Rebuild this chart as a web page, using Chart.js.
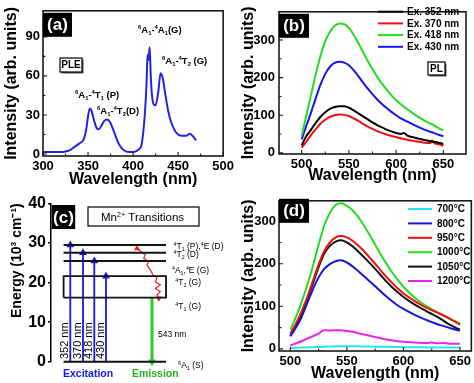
<!DOCTYPE html>
<html lang="en">
<head>
<meta charset="UTF-8">
<title>Mn2+ PLE / PL spectra</title>
<script src="https://cdn.jsdelivr.net/npm/chart.js"></script>
<style>
  body { margin: 0; background: #fff; width: 474px; height: 383px; overflow: hidden; position: relative; }
  .panel { position: absolute; }
</style>
</head>
<body>
<div class="panel" style="left:0;top:0;width:237px;height:190px"><canvas id="chartA"></canvas></div>
<div class="panel" style="left:237px;top:0;width:237px;height:190px"><canvas id="chartB"></canvas></div>
<div class="panel" style="left:0;top:190px;width:237px;height:193px"><canvas id="chartC"></canvas></div>
<div class="panel" style="left:237px;top:190px;width:237px;height:193px"><canvas id="chartD"></canvas></div>

<script>
// (a) PLE spectrum
const pleWavelength = [300, 310, 320, 325, 330, 335, 340, 345, 348, 350, 352, 354, 357, 360, 362, 365, 368, 371, 374, 377,
  380, 384, 388, 392, 396, 400, 404, 407, 409, 411, 413, 415, 416, 417, 418.5, 419.5, 421, 423, 425, 428,
  430.5, 433, 436, 439, 442, 446, 450, 455, 459, 463, 466, 470];
const pleIntensity = [1.5, 1.5, 1.5, 2, 3, 5.5, 8, 11, 19, 29, 35, 33, 25, 19.5, 19, 22, 25.5, 26.5, 25, 20.5,
  15, 8, 4, 2, 1.5, 1.5, 2.5, 4, 6, 15, 30, 55, 76, 72, 82, 62, 45, 38, 37.5, 48,
  62, 58, 45, 33, 25, 18.5, 15, 14, 14, 15.5, 14, 10.5];
const pleTicksX = [300, 350, 400, 450, 500];
const pleTicksY = [0, 30, 60, 90];

// (b) PL for different excitation wavelengths
const plWavelength = [500, 505, 510, 515, 520, 525, 530, 535, 540, 545, 550, 555, 560, 565, 570, 575, 580, 585, 590, 595,
  600, 605, 608, 612, 620, 630, 636, 638, 641, 645, 650];
const excLabels = ['Ex. 352 nm', 'Ex. 370 nm', 'Ex. 418 nm', 'Ex. 430 nm'];
const ex352 = [20, 45, 62, 80, 96, 108, 117, 122, 124, 124, 120, 113, 105, 97, 89, 81, 74, 68, 62, 57, 53, 50, 53, 46, 40, 34, 31, 30, 29, 27, 24];
const ex370 = [14, 30, 48, 63, 78, 88, 96, 100, 102, 101, 98, 92, 85, 77, 70, 64, 58, 53, 49, 45, 42, 39, 37, 35, 31, 27, 26, 33, 25, 23, 19];
const ex418 = [45, 100, 155, 210, 258, 297, 322, 338, 344, 342, 332, 314, 292, 268, 244, 222, 202, 184, 168, 153, 140, 129, 123, 116, 101, 86, 78, 76, 72, 66, 60];
const ex430 = [36, 72, 108, 146, 182, 210, 229, 239, 242, 240, 233, 220, 204, 187, 171, 156, 142, 130, 119, 109, 100, 92, 88, 83, 73, 62, 56, 55, 52, 48, 44];
const plTicksX = [500, 550, 600, 650];
const plTicksY = [0, 100, 200, 300];

// (c) Mn2+ energy levels (10^3 cm-1)
const levelEnergy = [29.5, 27.5, 25.4, 0];
const bandEnergy = [16.2, 21.6];
const levelSpan = [12.6, 115];
const levelNames = ['^4T_1 (P),^4E (D)', '^4T_2 (D)', '^4A_1,^4E (G)', '^4T_2 (G)', '^4T_1 (G)', '^6A_1 (S)'];
const excitationX = [19.3, 32, 43.3, 55];
const excitationTop = [29.5, 27.5, 25.4, 21.6];
const excitationNm = ['352 nm', '370 nm', '418 nm', '430 nm'];
const emissionX = 101;
const relaxX = [86, 94.3, 92.7, 97.7, 96, 99.3, 102, 106, 104.3, 109.3, 104.3, 109.3, 106, 107.7];
const relaxE = [28.6, 27, 26.1, 25.3, 24.4, 23.2, 21.9, 21.1, 20.2, 19.4, 18.5, 17.7, 16.8, 16.0];

// (d) PL for different annealing temperatures
const tempWavelength = [500, 505, 510, 515, 520, 525, 530, 535, 540, 545, 550, 555, 560, 565, 570, 575, 580, 585, 590, 595,
  600, 610, 620, 625, 630, 635, 640, 645, 650];
const tempLabels = ['700°C', '800°C', '950°C', '1000°C', '1050°C', '1200°C'];
const t700 = [2, 2.5, 3, 3.5, 4, 4.5, 5, 5.5, 6, 6, 6, 6, 6, 5.5, 5.5, 5, 5, 5, 4.5, 4.5, 4, 4, 3.5, 3.5, 3.5, 3, 3, 3, 3];
const t800 = [30, 50, 75, 108, 140, 168, 188, 199, 206, 208, 203, 194, 183, 171, 159, 147, 135, 123, 112, 102, 94, 80, 68, 63, 58, 54, 50, 46, 43];
const t950 = [36, 60, 88, 122, 160, 198, 230, 250, 262, 265, 262, 254, 243, 230, 215, 200, 184, 169, 155, 142, 130, 112, 97, 91, 85, 79, 72, 65, 57];
const t1000 = [45, 75, 110, 150, 195, 245, 290, 320, 338, 342, 336, 326, 310, 290, 268, 245, 222, 200, 180, 162, 146, 120, 101, 93, 86, 79, 72, 65, 59];
const t1050 = [30, 54, 82, 116, 154, 192, 224, 242, 252, 255, 250, 241, 229, 216, 202, 188, 173, 158, 145, 133, 122, 104, 89, 82, 75, 67, 58, 51, 45];
const t1200 = [8, 13, 18, 24, 30, 36, 44, 43, 44, 44, 42, 40, 37, 34, 31, 28, 25, 22, 20, 18, 17, 15, 14, 15, 13, 14, 12, 12, 12];

const FONT = 'Arial, "Liberation Sans", sans-serif';
const tickFont = { family: FONT, size: 13, weight: 'bold' };
const titleFont = { family: FONT, size: 16, weight: 'bold' };

const pts = (xs, ys) => xs.map((x, i) => ({ x: x, y: ys[i] }));
const fixedTicks = vals => s => { s.ticks = vals.map(v => ({ value: v })); };

// text with ^x superscript and _x subscript runs
function richText(ctx, str, x, y, size, weight) {
  const parts = str.match(/\^.|_.|[^\^_]+/g);
  let cx = x;
  parts.forEach(p => {
    let dy = 0, fs = size, t = p;
    if (p[0] === '^') { dy = -size * 0.38; fs = size * 0.62; t = p.slice(1); }
    else if (p[0] === '_') { dy = size * 0.22; fs = size * 0.62; t = p.slice(1); }
    ctx.font = weight + ' ' + fs + 'px ' + FONT;
    ctx.fillText(t, cx, y + dy);
    cx += ctx.measureText(t).width;
  });
}

function tag(ctx, text, x, y, w, h) {
  ctx.fillStyle = '#000';
  ctx.fillRect(x, y, w, h);
  ctx.fillStyle = '#fff';
  ctx.font = 'bold 17px ' + FONT;
  ctx.textAlign = 'center';
  ctx.textBaseline = 'middle';
  ctx.fillText(text, x + w / 2, y + h / 2 + 1);
  ctx.textAlign = 'left';
  ctx.textBaseline = 'alphabetic';
}

function shadowBox(ctx, text, x, y, w, h, size) {
  ctx.fillStyle = '#555';
  ctx.fillRect(x + 1.5, y + 1.5, w, h);
  ctx.fillStyle = '#fff';
  ctx.fillRect(x, y, w, h);
  ctx.strokeStyle = '#000';
  ctx.lineWidth = 1.2;
  ctx.strokeRect(x, y, w, h);
  ctx.fillStyle = '#000';
  ctx.font = 'bold ' + size + 'px ' + FONT;
  ctx.textAlign = 'center';
  ctx.textBaseline = 'middle';
  ctx.fillText(text, x + w / 2, y + h / 2 + 0.5);
  ctx.textAlign = 'left';
  ctx.textBaseline = 'alphabetic';
}

// boxed frame with inward major/minor ticks
const framePlugin = {
  id: 'frame',
  afterDatasetsDraw(chart, args, o) {
    const { ctx, chartArea: a } = chart;
    const xs = chart.scales.x, ys = chart.scales.y;
    ctx.save();
    ctx.strokeStyle = '#1a1a1a';
    ctx.lineWidth = 1.6;
    ctx.strokeRect(a.left, a.top, a.right - a.left, a.bottom - a.top);
    ctx.lineWidth = 1.1;
    ctx.beginPath();
    for (let v = Math.ceil(xs.min / o.xMinor) * o.xMinor; v <= xs.max; v += o.xMinor) {
      const p = xs.getPixelForValue(v), len = v % o.xMajor === 0 ? 4 : 2.5;
      ctx.moveTo(p, a.bottom); ctx.lineTo(p, a.bottom - len);
    }
    for (let v = Math.ceil(ys.min / o.yMinor) * o.yMinor; v <= ys.max; v += o.yMinor) {
      const p = ys.getPixelForValue(v), len = v % o.yMajor === 0 ? 4 : 2.5;
      ctx.moveTo(a.left, p); ctx.lineTo(a.left + len, p);
    }
    ctx.stroke();
    ctx.restore();
  }
};

// line-sample legend drawn inside the plot
const lineLegend = {
  id: 'lineLegend',
  afterDatasetsDraw(chart, args, o) {
    const ctx = chart.ctx;
    ctx.save();
    ctx.font = 'bold 10px ' + FONT;
    ctx.textBaseline = 'middle';
    chart.data.datasets.forEach((ds, i) => {
      const y = o.y0 + i * o.dy;
      ctx.strokeStyle = ds.borderColor;
      ctx.lineWidth = 2;
      ctx.beginPath(); ctx.moveTo(o.x0, y); ctx.lineTo(o.x1, y); ctx.stroke();
      ctx.fillStyle = '#000';
      ctx.fillText(ds.label, o.tx, y + 0.5);
    });
    ctx.restore();
  }
};

function spectrumScales(o) {
  return {
    x: {
      type: 'linear', min: o.xMin, max: o.xMax,
      afterBuildTicks: fixedTicks(o.xTicks),
      ticks: { padding: o.xPad, color: '#000', font: tickFont, maxRotation: 0 },
      grid: { display: false, drawTicks: false }, border: { display: false },
      title: { display: true, text: 'Wavelength (nm)', color: '#000', font: titleFont, padding: { top: 0, bottom: o.xTitlePad } },
      afterFit: s => { s.height = o.xH; }
    },
    y: {
      type: 'linear', min: o.yMin, max: o.yMax,
      afterBuildTicks: fixedTicks(o.yTicks),
      ticks: { padding: o.yPad, color: '#000', font: tickFont },
      grid: { display: false, drawTicks: false }, border: { display: false },
      title: { display: true, text: 'Intensity (arb. units)', color: '#000', font: titleFont, padding: { top: o.yTitlePad, bottom: 0 } },
      afterFit: s => { s.width = o.yW; }
    }
  };
}

const lineDefaults = { borderWidth: 2, pointRadius: 0, cubicInterpolationMode: 'monotone', fill: false };

// ---------- (a) ----------
new Chart(document.getElementById('chartA'), {
  type: 'line',
  data: { datasets: [Object.assign({ label: 'PLE', data: pts(pleWavelength, pleIntensity), borderColor: '#2424e0' }, lineDefaults)] },
  options: {
    responsive: true, maintainAspectRatio: false, animation: false,
    layout: { padding: { top: 2, right: 9, left: 0, bottom: 0 }, autoPadding: false },
    plugins: {
      legend: { display: false }, tooltip: { enabled: false },
      frame: { xMinor: 25, xMajor: 50, yMinor: 15, yMajor: 30 }
    },
    scales: spectrumScales({ xMin: 300, xMax: 500, yMin: -1.5, yMax: 110, xTicks: pleTicksX, yTicks: pleTicksY,
      xPad: 3, yPad: 3, xH: 34, yW: 43, xTitlePad: 1, yTitlePad: 2 })
  },
  plugins: [framePlugin, {
    id: 'annotA',
    afterDraw(chart) {
      const ctx = chart.ctx, a = chart.chartArea;
      ctx.save();
      tag(ctx, '(a)', a.left, a.top + 2, 29, 24);
      shadowBox(ctx, 'PLE', 60, 58, 22, 14, 10);
      ctx.fillStyle = '#000';
      richText(ctx, '^6A_1-^4T_1 (P)', 75, 98, 9.5, 'bold');
      richText(ctx, '^6A_1-^4T_2(D)', 97, 114, 9.5, 'bold');
      richText(ctx, '^6A_1-^4A_1(G)', 138, 33, 9.5, 'bold');
      richText(ctx, '^6A_1-^4T_2 (G)', 162, 64, 9.5, 'bold');
      ctx.restore();
    }
  }]
});

// ---------- (b) ----------
const excSeries = [ex352, ex370, ex418, ex430];
const excColors = ['#000000', '#ee1111', '#22dd22', '#1515ee'];
new Chart(document.getElementById('chartB'), {
  type: 'line',
  data: {
    datasets: excSeries.map((s, i) => Object.assign({ label: excLabels[i], data: pts(plWavelength, s), borderColor: excColors[i] }, lineDefaults))
  },
  options: {
    responsive: true, maintainAspectRatio: false, animation: false,
    layout: { padding: { top: 2, right: 8, left: 0, bottom: 0 }, autoPadding: false },
    plugins: {
      legend: { display: false }, tooltip: { enabled: false },
      frame: { xMinor: 25, xMajor: 50, yMinor: 50, yMajor: 100 },
      lineLegend: { x0: 141, x1: 166, tx: 170, y0: 11.7, dy: 11.7 }
    },
    scales: spectrumScales({ xMin: 476, xMax: 674, yMin: -3, yMax: 375, xTicks: plTicksX, yTicks: plTicksY,
      xPad: 3, yPad: 4, xH: 36, yW: 42, xTitlePad: 5, yTitlePad: 2 })
  },
  plugins: [framePlugin, lineLegend, {
    id: 'annotB',
    afterDraw(chart) {
      const ctx = chart.ctx, a = chart.chartArea;
      ctx.save();
      tag(ctx, '(b)', a.left, a.top + 2, 30, 24);
      shadowBox(ctx, 'PL', 191, 62, 17, 13, 10);
      ctx.restore();
    }
  }]
});

// ---------- (c) ----------
const levelSets = levelEnergy.map(e => ({
  data: [{ x: levelSpan[0], y: e }, { x: levelSpan[1], y: e }],
  borderColor: '#111', borderWidth: 2, pointRadius: 0, clip: false
}));
const bandSet = {
  data: [{ x: levelSpan[0], y: bandEnergy[0] }, { x: levelSpan[1], y: bandEnergy[0] }, { x: levelSpan[1], y: bandEnergy[1] },
         { x: levelSpan[0], y: bandEnergy[1] }, { x: levelSpan[0], y: bandEnergy[0] }],
  borderColor: '#111', borderWidth: 1.8, pointRadius: 0, clip: false
};
const excitationSets = excitationX.map((x, i) => ({
  data: [{ x: x, y: 0 }, { x: x, y: excitationTop[i] }],
  borderColor: '#1414f5', backgroundColor: '#1414f5', borderWidth: 1.8,
  pointRadius: [0, 4.5], pointStyle: 'triangle', pointBorderWidth: 0, clip: false
}));
const emissionSet = {
  data: [{ x: emissionX, y: bandEnergy[0] }, { x: emissionX, y: 0 }],
  borderColor: '#2ecc2e', backgroundColor: '#2ecc2e', borderWidth: 3,
  pointRadius: [0, 4.5], pointStyle: 'triangle', pointRotation: 180, pointBorderWidth: 0, clip: false
};
const relaxSet = {
  data: pts(relaxX, relaxE),
  borderColor: '#ee1c1c', backgroundColor: '#ee1c1c', borderWidth: 1.2,
  pointRadius: relaxX.map((x, i) => (i === 0 || i === relaxX.length - 1) ? 3.5 : 0),
  pointRotation: relaxX.map((x, i) => i === 0 ? 0 : 180),
  pointStyle: 'triangle', pointBorderWidth: 0, clip: false
};

new Chart(document.getElementById('chartC'), {
  type: 'line',
  data: { datasets: [...levelSets, bandSet, ...excitationSets, emissionSet, relaxSet] },
  options: {
    responsive: true, maintainAspectRatio: false, animation: false,
    layout: { padding: { top: 13.3, right: 6, left: 0, bottom: 21.3 }, autoPadding: false },
    plugins: { legend: { display: false }, tooltip: { enabled: false } },
    scales: {
      x: { type: 'linear', min: 0, max: 180, display: false },
      y: {
        type: 'linear', min: 0, max: 40,
        ticks: { stepSize: 10, padding: 2, color: '#000', font: { family: FONT, size: 16, weight: 'bold' } },
        grid: { display: true, drawOnChartArea: false, drawTicks: true, tickLength: 3, color: '#000', lineWidth: 1.5 },
        border: { display: true, color: '#000', width: 1.5 },
        title: { display: true, text: 'Energy (10³ cm⁻¹)', align: 'end', color: '#000',
                 font: { family: FONT, size: 14, weight: 'bold' }, padding: { top: 9, bottom: 0 } },
        afterFit: s => { s.width = 51; }
      }
    }
  },
  plugins: [{
    id: 'annotC',
    afterDraw(chart) {
      const ctx = chart.ctx, a = chart.chartArea;
      const xs = chart.scales.x, ys = chart.scales.y;
      ctx.save();
      tag(ctx, '(c)', a.left + 0.7, 15, 23.5, 24);
      // Mn2+ Transitions box
      ctx.strokeStyle = '#000'; ctx.lineWidth = 1.2;
      ctx.strokeRect(88, 17, 111, 19);
      ctx.fillStyle = '#000';
      richText(ctx, 'Mn^2^+ Transitions', 101, 31, 11.5, 'normal');
      // level names
      const nameAt = [[122.6, 59], [122.6, 67], [121, 83], [124.3, 95], [124.3, 119], [127.3, 178]];
      levelNames.forEach((n, i) => richText(ctx, n, xs.getPixelForValue(nameAt[i][0]), nameAt[i][1], 8.5, 'normal'));
      // excitation wavelengths, rotated
      ctx.font = '11px ' + FONT;
      ctx.textAlign = 'center';
      ctx.textBaseline = 'middle';
      excitationX.forEach((x, i) => {
        ctx.save();
        ctx.translate(xs.getPixelForValue(x) - 5, ys.getPixelForValue(5.3));
        ctx.rotate(-Math.PI / 2);
        ctx.fillText(excitationNm[i], 0, 0);
        ctx.restore();
      });
      ctx.textAlign = 'left';
      ctx.textBaseline = 'alphabetic';
      ctx.font = '8.5px ' + FONT;
      ctx.fillText('543 nm', xs.getPixelForValue(emissionX) + 6, ys.getPixelForValue(6.2));
      ctx.font = 'bold 10.5px ' + FONT;
      ctx.fillStyle = '#1414f5';
      ctx.fillText('Excitation', 63, 187);
      ctx.fillStyle = '#22b022';
      ctx.fillText('Emission', 132, 187);
      ctx.restore();
    }
  }]
});

// ---------- (d) ----------
const tempSeries = [t700, t800, t950, t1000, t1050, t1200];
const tempColors = ['#22e8ee', '#1515e0', '#ee1111', '#22dd22', '#111111', '#ee22ee'];
new Chart(document.getElementById('chartD'), {
  type: 'line',
  data: {
    datasets: tempSeries.map((s, i) => Object.assign({ label: tempLabels[i], data: pts(tempWavelength, s), borderColor: tempColors[i] }, lineDefaults))
  },
  options: {
    responsive: true, maintainAspectRatio: false, animation: false,
    layout: { padding: { top: 10, right: 2.3, left: 0, bottom: 0 }, autoPadding: false },
    plugins: {
      legend: { display: false }, tooltip: { enabled: false },
      frame: { xMinor: 25, xMajor: 50, yMinor: 50, yMajor: 100 },
      lineLegend: { x0: 171, x1: 195, tx: 200, y0: 19, dy: 14.4 }
    },
    scales: spectrumScales({ xMin: 490, xMax: 660, yMin: -5, yMax: 348, xTicks: plTicksX, yTicks: plTicksY,
      xPad: 3, yPad: 3, xH: 32, yW: 42, xTitlePad: 0, yTitlePad: 1.5 })
  },
  plugins: [framePlugin, lineLegend, {
    id: 'annotD',
    afterDraw(chart) {
      const ctx = chart.ctx, a = chart.chartArea;
      ctx.save();
      tag(ctx, '(d)', a.left, a.top - 2, 30, 24);
      ctx.restore();
    }
  }]
});
</script>
</body>
</html>
